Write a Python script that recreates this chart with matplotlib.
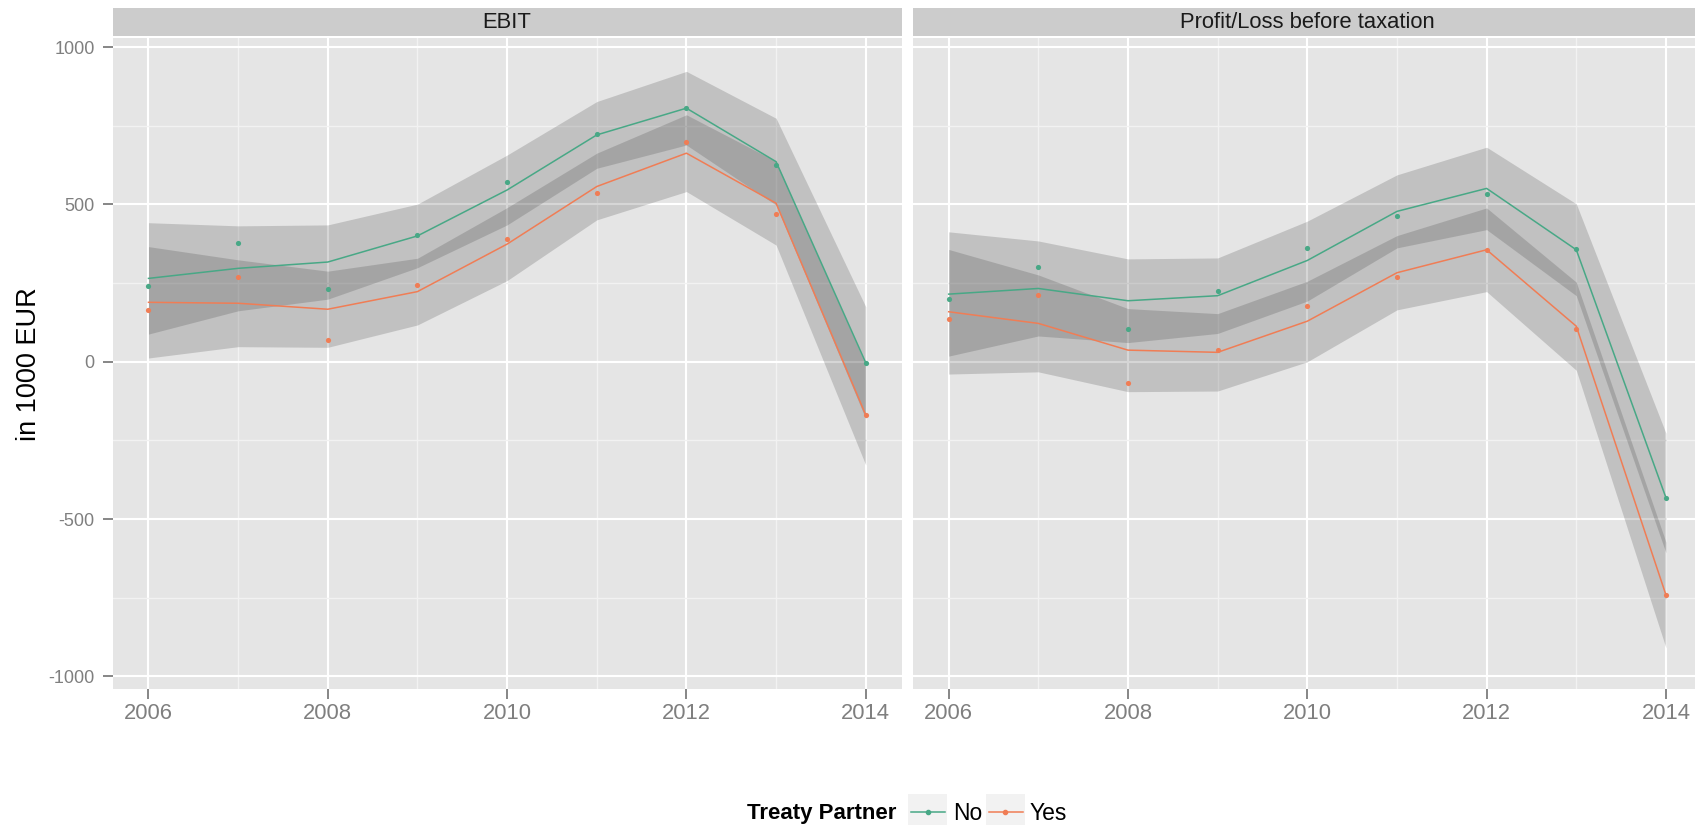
import matplotlib.pyplot as plt
from matplotlib.patches import Rectangle
from matplotlib.lines import Line2D

years = [2006, 2007, 2008, 2009, 2010, 2011, 2012, 2013, 2014]

# EBIT: yearly means and fitted values with confidence bounds
ebit_no_pts = [242, 377, 231, 403, 572, 723, 808, 625, -5]
ebit_no_fit = [265, 297, 317, 400, 546, 721, 806, 636, -3]
ebit_no_lo = [88, 162, 199, 299, 435, 615, 689, 498, -181]
ebit_no_hi = [442, 432, 435, 501, 657, 827, 923, 774, 175]
ebit_yes_pts = [165, 268, 70, 244, 391, 538, 698, 470, -169]
ebit_yes_fit = [189, 186, 167, 223, 374, 557, 663, 504, -169]
ebit_yes_lo = [12, 48, 46, 117, 258, 451, 541, 371, -328]
ebit_yes_hi = [366, 324, 288, 329, 490, 663, 785, 637, -10]

# Profit/Loss before taxation
pl_no_pts = [198, 300, 105, 226, 363, 463, 533, 359, -434]
pl_no_fit = [215, 233, 194, 210, 322, 478, 551, 356, -432]
pl_no_lo = [18, 82, 61, 90, 193, 362, 420, 210, -607]
pl_no_hi = [413, 384, 327, 330, 447, 594, 682, 502, -227]
pl_yes_pts = [136, 211, -67, 37, 177, 269, 356, 105, -741]
pl_yes_fit = [159, 122, 37, 30, 129, 283, 356, 113, -741]
pl_yes_lo = [-39, -32, -95, -93, 0, 165, 223, -27, -909]
pl_yes_hi = [357, 276, 169, 153, 256, 401, 489, 253, -573]

groups = ["No", "Yes"]
colors = {"No": "#48A886", "Yes": "#F07D55"}

panels = [
    ("EBIT", {"No": (ebit_no_pts, ebit_no_fit, ebit_no_lo, ebit_no_hi),
              "Yes": (ebit_yes_pts, ebit_yes_fit, ebit_yes_lo, ebit_yes_hi)}),
    ("Profit/Loss before taxation", {"No": (pl_no_pts, pl_no_fit, pl_no_lo, pl_no_hi),
                                     "Yes": (pl_yes_pts, pl_yes_fit, pl_yes_lo, pl_yes_hi)}),
]

plt.rcParams['font.family'] = ['Liberation Sans', 'DejaVu Sans']
plt.rcParams['axes.unicode_minus'] = False

W, H = 1695, 825
fig = plt.figure(figsize=(W / 100, H / 100), dpi=100)


def box(x0, y0, x1, y1):
    # pixel box (top-left origin) -> figure fraction rect
    return [x0 / W, 1 - y1 / H, (x1 - x0) / W, (y1 - y0) / H]


panel_w = 789
lefts = [112.6, 912.8]

for i, (title, series) in enumerate(panels):
    left = lefts[i]
    ax = fig.add_axes(box(left, 37.7, left + panel_w, 689))
    ax.set_facecolor('#E5E5E5')

    for g in groups:
        pts, fit, lo, hi = series[g]
        ax.fill_between(years, lo, hi, color='#333333', alpha=0.2, lw=0, zorder=1)
    for g in groups:
        pts, fit, lo, hi = series[g]
        ax.plot(years, fit, color=colors[g], lw=1.1, zorder=2)
        ax.scatter(years, pts, s=14, color=colors[g], lw=0, zorder=3)

    ax.set_xlim(2005.6, 2014.4)
    ax.set_ylim(-1040, 1030)
    ax.set_xticks([2006, 2008, 2010, 2012, 2014])
    ax.set_xticks([2007, 2009, 2011, 2013], minor=True)
    ax.set_yticks([-1000, -500, 0, 500, 1000])
    ax.set_yticks([-750, -250, 250, 750], minor=True)
    ax.grid(which='major', color='white', lw=1.5)
    ax.grid(which='minor', color='#F2F2F2', lw=1.0)
    ax.set_axisbelow(True)
    for s in ax.spines.values():
        s.set_visible(False)

    ax.tick_params(which='minor', length=0)
    ax.tick_params(axis='x', which='major', length=7.5, width=1.1, color='#666666',
                   labelsize=15.8, labelcolor='#7F7F7F', pad=2.5)
    if i == 0:
        ax.tick_params(axis='y', which='major', length=7.5, width=1.1, color='#666666',
                       labelsize=13, labelcolor='#7F7F7F', pad=5.5)
    else:
        ax.tick_params(axis='y', which='major', length=0, labelleft=False)

    # facet strip
    strip = fig.add_axes(box(left, 7.5, left + panel_w, 36.2))
    strip.set_facecolor('#CCCCCC')
    strip.set_xticks([])
    strip.set_yticks([])
    for s in strip.spines.values():
        s.set_visible(False)
    strip.text(0.5, 0.48, title, ha='center', va='center', fontsize=15.8,
               color='#1A1A1A', transform=strip.transAxes)

fig.text(29 / W, 1 - 364 / H, "in 1000 EUR", rotation=90, ha='center', va='center',
         fontsize=19.5, color='black')

# legend along the bottom
fig.text(896.7 / W, 1 - 814 / H, "Treaty Partner", ha='right', va='center',
         fontsize=16, fontweight='bold', color='black')
key_x = [908.3, 986.0]
label_x = [952.7, 1030.0]
for g, kx, lx in zip(groups, key_x, label_x):
    fig.add_artist(Rectangle((kx / W, 1 - 830 / H), 38.5 / W, 36 / H,
                             transform=fig.transFigure, color='#F2F2F2', lw=0))
    fig.add_artist(Line2D([(kx + 2.5) / W, (kx + 19.3) / W, (kx + 36.5) / W],
                          [1 - 812 / H] * 3, transform=fig.transFigure,
                          color=colors[g], lw=1.1, marker='o', markersize=3,
                          markevery=[1]))
    fig.text(lx / W, 1 - 814 / H, g, ha='left', va='center', fontsize=16.5, color='black')

fig.savefig('out.png', dpi=100)
